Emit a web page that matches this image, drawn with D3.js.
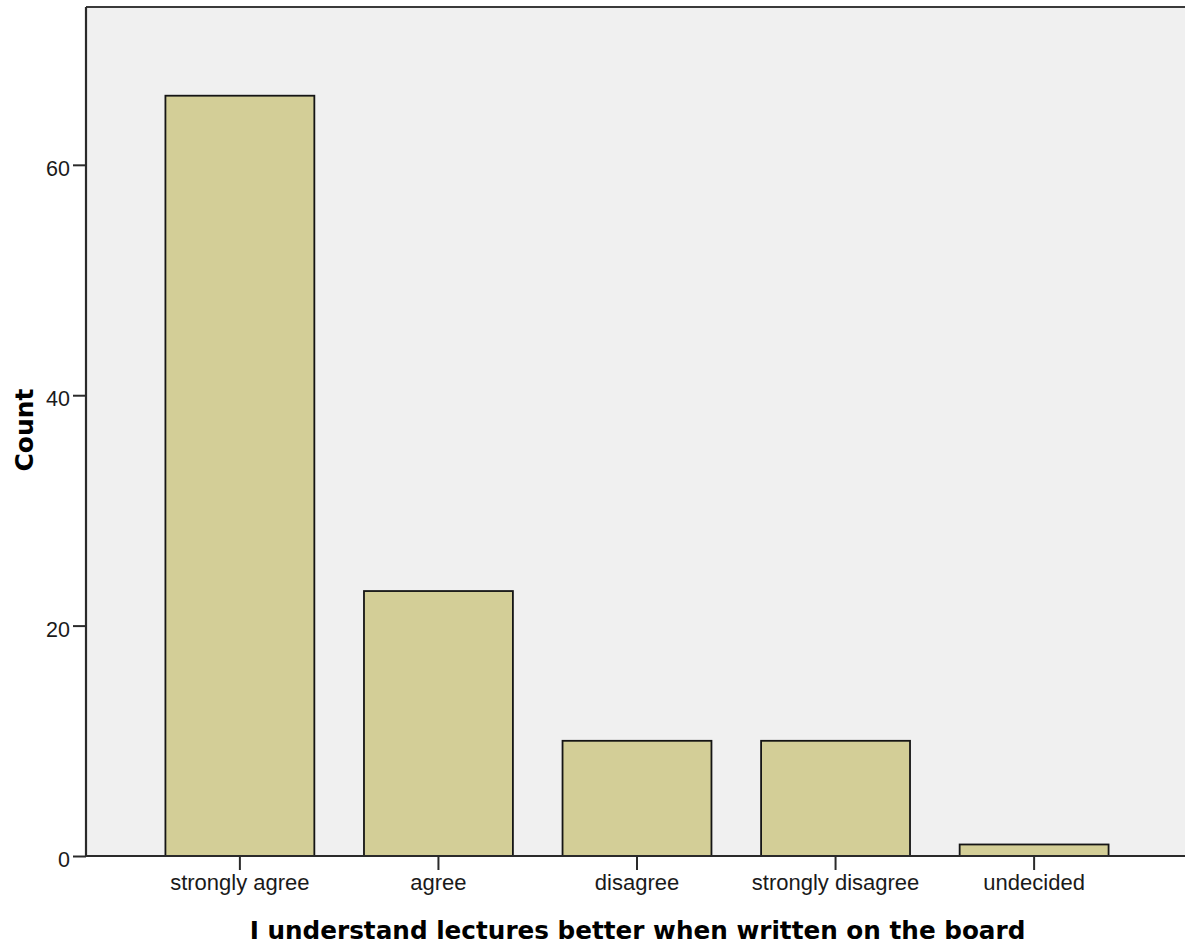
<!DOCTYPE html>
<html>
<head>
<meta charset="utf-8">
<script src="https://cdn.jsdelivr.net/npm/d3@7"></script>
<style>
  html, body { margin: 0; padding: 0; background: #ffffff; }
  svg { display: block; }
</style>
</head>
<body>
<svg id="chart" width="1185" height="946"></svg>
<script>
// Responses to "I understand lectures better when written on the board"
const categories = ["strongly agree", "agree", "disagree", "strongly disagree", "undecided"];
const counts = [66, 23, 10, 10, 1];
const yTicks = [0, 20, 40, 60];
const xTitle = "I understand lectures better when written on the board";
const yTitle = "Count";

const svg = d3.select("#chart");
const W = 1185, H = 946;

const plot = { left: 86, top: 7, right: 1188, bottom: 856 };

const x = d3.scaleBand()
  .domain(categories)
  .range([plot.left, plot.right])
  .paddingInner(0.25)
  .paddingOuter(0.4);

const y = d3.scaleLinear()
  .domain([0, 73.7])
  .range([plot.bottom, plot.top]);

// plot background
svg.append("rect")
  .attr("x", plot.left)
  .attr("y", plot.top)
  .attr("width", W - plot.left)
  .attr("height", plot.bottom - plot.top)
  .attr("fill", "#f0f0f0");

// bars
svg.append("g")
  .selectAll("rect")
  .data(categories.map((c, i) => ({ c, v: counts[i] })))
  .join("rect")
  .attr("x", d => x(d.c))
  .attr("y", d => y(d.v))
  .attr("width", x.bandwidth())
  .attr("height", d => y(0) - y(d.v))
  .attr("fill", "#d3ce97")
  .attr("stroke", "#151515")
  .attr("stroke-width", 1.8);

// top frame line
svg.append("line")
  .attr("x1", plot.left).attr("x2", W)
  .attr("y1", plot.top).attr("y2", plot.top)
  .attr("stroke", "#3a3a3a").attr("stroke-width", 2.2);

const tickFont = "'Liberation Sans', Arial, sans-serif";

// y axis
const yAxis = svg.append("g")
  .attr("transform", `translate(${plot.left},0)`)
  .call(d3.axisLeft(y).tickValues(yTicks).tickSize(13).tickPadding(3).tickFormat(d3.format("d")));
yAxis.select(".domain").attr("stroke", "#2a2a2a").attr("stroke-width", 2.2)
  .attr("d", `M0,${plot.top}V${plot.bottom}`);
yAxis.selectAll(".tick line").attr("stroke", "#2a2a2a").attr("stroke-width", 2);
yAxis.selectAll(".tick text")
  .attr("font-family", tickFont)
  .attr("font-size", 21.5)
  .attr("fill", "#1a1a1a")
  .attr("dy", "0.5em");

// x axis
const xAxis = svg.append("g")
  .attr("transform", `translate(0,${plot.bottom})`)
  .call(d3.axisBottom(x).tickSize(14).tickPadding(5));
xAxis.select(".domain").attr("stroke", "#2a2a2a").attr("stroke-width", 2.2)
  .attr("d", `M${plot.left},0H${W}`);
xAxis.selectAll(".tick line").attr("stroke", "#2a2a2a").attr("stroke-width", 2);
xAxis.selectAll(".tick text")
  .attr("font-family", tickFont)
  .attr("font-size", 22)
  .attr("fill", "#1a1a1a")
  .attr("dy", "0.68em");

const titleFont = "'DejaVu Sans', Verdana, sans-serif";

// axis titles
svg.append("text")
  .attr("x", (250 + 1025) / 2)
  .attr("y", 939)
  .attr("text-anchor", "middle")
  .attr("font-family", titleFont)
  .attr("font-weight", "bold")
  .attr("font-size", 24.7)
  .attr("fill", "#000")
  .text(xTitle);

svg.append("text")
  .attr("transform", `translate(33,${430}) rotate(-90)`)
  .attr("text-anchor", "middle")
  .attr("font-family", titleFont)
  .attr("font-weight", "bold")
  .attr("font-size", 25)
  .attr("fill", "#000")
  .text(yTitle);
</script>
</body>
</html>
